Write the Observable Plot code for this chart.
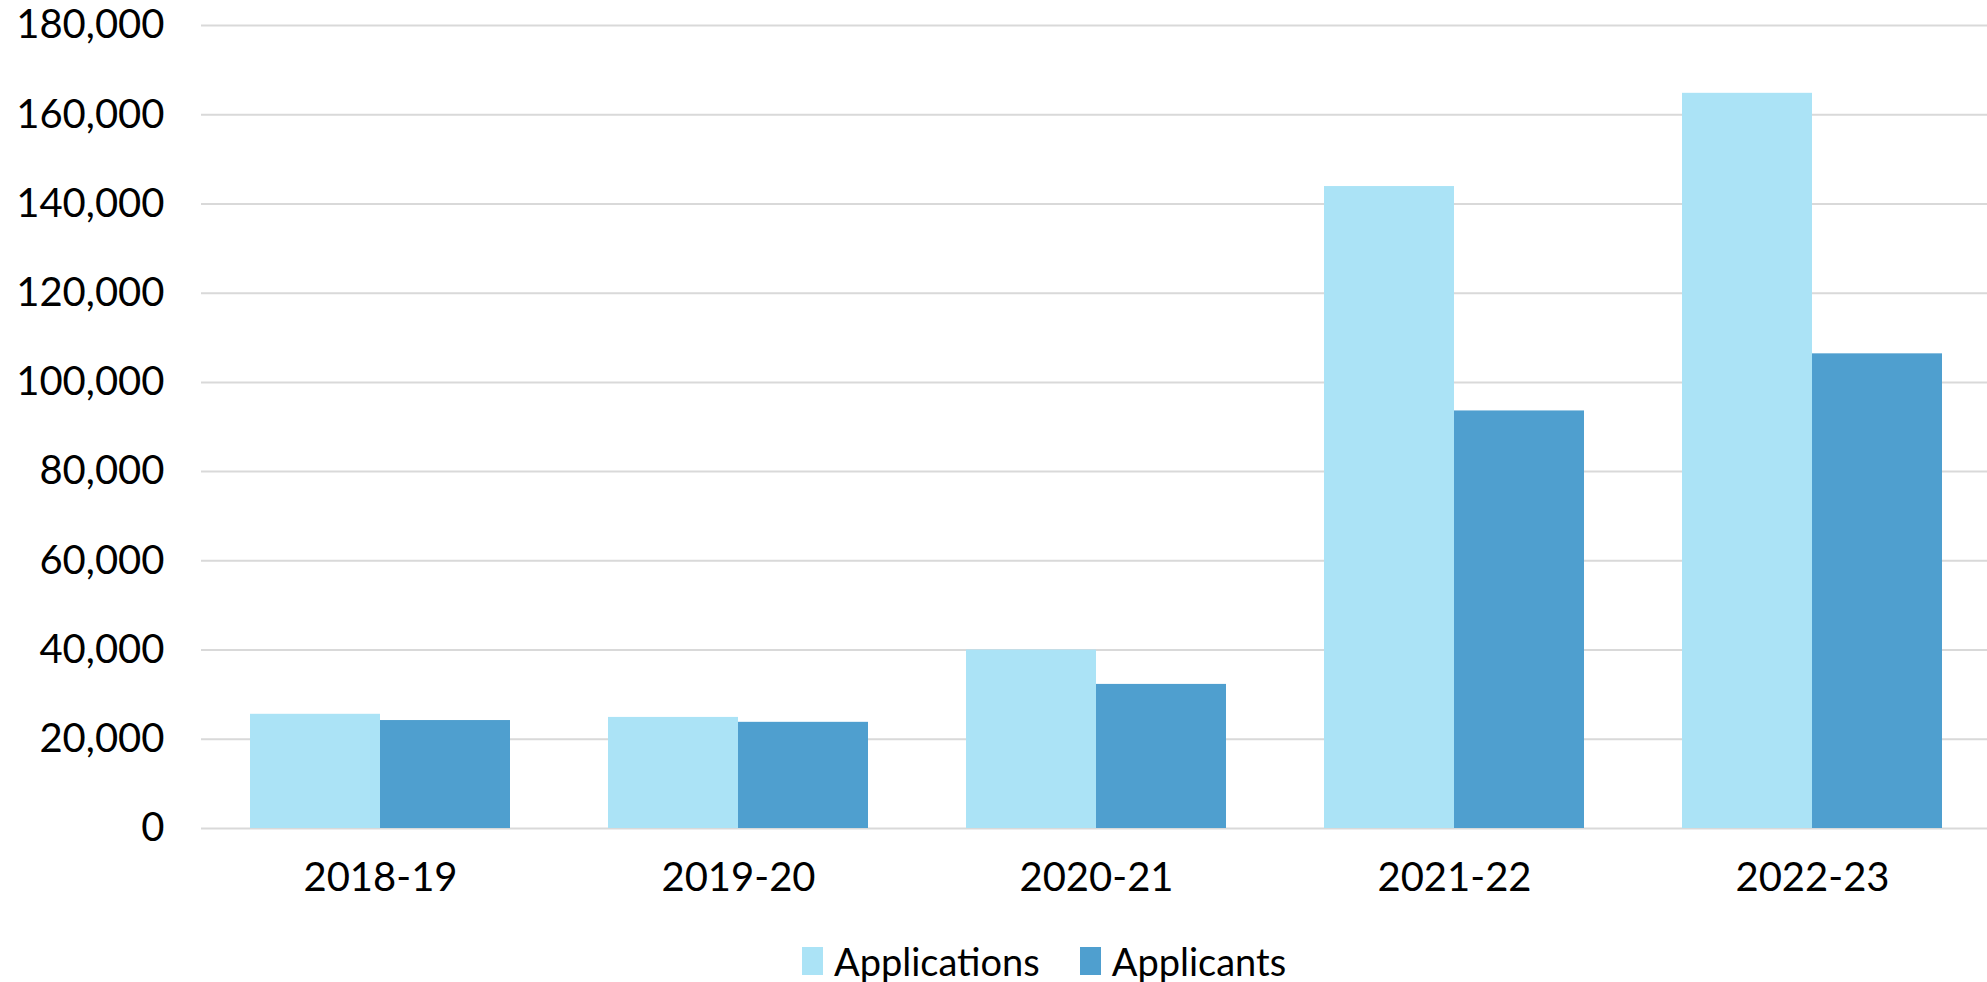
<!DOCTYPE html>
<html>
<head>
<meta charset="utf-8">
<script src="https://cdn.jsdelivr.net/npm/d3@7"></script>
<script src="https://cdn.jsdelivr.net/npm/@observablehq/plot@0.6"></script>
<style>
  html, body { margin: 0; padding: 0; background: #fff; overflow: hidden; }
  #chart { position: absolute; left: 0; top: 0; }
  #legend { position: absolute; left: 802px; top: 942px; display: flex; align-items: center;
            font-family: Lato, sans-serif; font-size: 38px; line-height: 38px; color: #000; white-space: nowrap; }
  #legend .item { display: flex; align-items: center; margin-right: 40px; }
  #legend .sw { width: 21px; height: 28px; margin-right: 11px; }
</style>
</head>
<body>
<div id="chart"></div>
<div id="legend"></div>
<script>
const years = ["2018-19", "2019-20", "2020-21", "2021-22", "2022-23"];
const applications = [25600, 24900, 40000, 143900, 164800];
const applicants = [24200, 23800, 32300, 93600, 106400];
const seriesNames = ["Applications", "Applicants"];
const seriesColors = ["#abe3f6", "#4f9fcf"];
const yTicks = [0, 20000, 40000, 60000, 80000, 100000, 120000, 140000, 160000, 180000];

const seriesValues = [applications, applicants];
const rows = [];
years.forEach((yr, i) => {
  seriesNames.forEach((s, j) => rows.push({year: yr, series: s, value: seriesValues[j][i]}));
});

const chart = Plot.plot({
  width: 1987,
  height: 910,
  marginLeft: 201,
  marginRight: 0,
  marginTop: 25,
  marginBottom: 82,
  style: {fontFamily: "Lato, sans-serif", fontSize: "40px", color: "#000", background: "#fff", overflow: "hidden"},
  fx: {domain: years, padding: 0, label: null, range: [201, 1991]},
  x: {domain: seriesNames, paddingInner: 0, paddingOuter: 0.375, axis: null},
  y: {domain: [0, 180000]},
  color: {domain: seriesNames, range: seriesColors},
  marks: [
    Plot.gridY(yTicks, {stroke: "#d9d9d9", strokeOpacity: 1, strokeWidth: 2}),
    Plot.barY(rows, {fx: "year", x: "series", y: "value", fill: "series"}),
    Plot.axisY(yTicks, {tickSize: 0, tickPadding: 37, tickFormat: d3.format(","), label: null}),
    Plot.axisFx({anchor: "bottom", tickSize: 0, tickPadding: 34, label: null})
  ]
});
document.getElementById("chart").appendChild(chart);

const legend = document.getElementById("legend");
seriesNames.forEach((s, i) => {
  const item = document.createElement("div");
  item.className = "item";
  const sw = document.createElement("div");
  sw.className = "sw";
  sw.style.background = seriesColors[i];
  const t = document.createElement("span");
  t.textContent = s;
  item.appendChild(sw);
  item.appendChild(t);
  legend.appendChild(item);
});
</script>
</body>
</html>
